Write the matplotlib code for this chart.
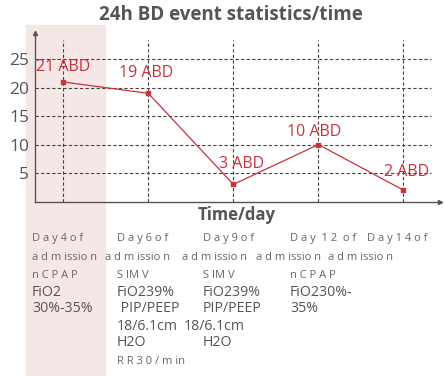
import matplotlib.pyplot as plt
from matplotlib.patches import Rectangle

plt.rcParams['font.family'] = ['Open Sans', 'DejaVu Sans']

# BD events per 24h on each observation day
days = ["Day 4", "Day 6", "Day 9", "Day 12", "Day 14"]
counts = [21, 19, 3, 10, 2]
labels = ["21 ABD", "19 ABD", "3 ABD", "10 ABD", "2 ABD"]
yticks = [5, 10, 15, 20, 25]

W, H = 444, 376
red = "#c8323a"
gray = "#555555"

fig = plt.figure(figsize=(W / 100, H / 100), dpi=100)

def fx(x):
    return x / W

def fy(y):
    return 1 - y / H

# shaded first column
fig.patches.append(Rectangle((fx(25.7), 0), fx(105.3) - fx(25.7), fy(25),
                             transform=fig.transFigure, color="#f6e7e7", zorder=-10))

ax = fig.add_axes([fx(34.7), fy(201.5), fx(440) - fx(34.7), fy(33) - fy(201.5)])
ax.set_facecolor("none")
x = list(range(len(days)))
ax.set_xlim(-0.336, 4.43)
ax.set_ylim(0, 29.6)

for v in yticks:
    ax.plot([-0.336, 4.32], [v, v], ls=(0, (3, 2)), color="#444444", lw=0.8, zorder=1)
for xi in x:
    ax.plot([xi, xi], [0, 28.3], ls=(0, (3, 2)), color="#444444", lw=0.8, zorder=1)

ax.plot(x, counts, color=red, lw=0.9, marker="s", ms=3.5, zorder=3)

offsets = [(-27, 7), (-29, 12), (-14, 12), (-31, 5), (-19, 10)]
for xi, c, lab, (dx, dy) in zip(x, counts, labels, offsets):
    ax.annotate(lab, (xi, c), xytext=(dx, dy), textcoords="offset pixels",
                color=red, fontsize=11.5, ha="left", va="bottom", zorder=4)

for s in ["top", "right"]:
    ax.spines[s].set_visible(False)
for s in ["left", "bottom"]:
    ax.spines[s].set_color(gray)
    ax.spines[s].set_linewidth(1.0)
ax.plot([-0.336], [29.6], marker="^", ms=3, color=gray, clip_on=False)
ax.plot([4.43], [0], marker=">", ms=3, color=gray, clip_on=False)

ax.set_xticks([])
ax.set_yticks(yticks)
ax.tick_params(axis="y", length=0, labelsize=12.5, labelcolor=gray, pad=4)

fig.text(fx(231), fy(15), "24h BD event statistics/time", ha="center", va="center",
         fontsize=13.5, fontweight="bold", color=gray)
fig.text(fx(237), fy(215), "Time/day", ha="center", va="center",
         fontsize=12, fontweight="bold", color=gray)

# notes under each day: (x, y, text, spaced)
notes = [
    (32, 239, "D a y 4 o f", True), (32, 257, "a d m issio n", True),
    (32, 275, "n C P A P", True), (32, 292, "FiO2", False), (32, 309, "30%-35%", False),
    (117, 239, "D a y 6 o f", True), (105, 257, "a d m issio n", True),
    (117, 275, "S IM V", True), (117, 292, "FiO239%", False), (117, 309, " PIP/PEEP", False),
    (117, 326, "18/6.1cm", False), (117, 343, "H2O", False), (117, 362, "R R 3 0 / m in", True),
    (203, 239, "D a y 9 o f", True), (182, 257, "a d m issio n", True),
    (203, 275, "S IM V", True), (203, 292, "FiO239%", False), (203, 309, "PIP/PEEP", False),
    (184, 326, "18/6.1cm", False), (203, 343, "H2O", False),
    (290, 239, "D a y  1 2  o f", True), (256, 257, "a d m issio n", True),
    (290, 275, "n C P A P", True), (290, 292, "FiO230%-", False), (290, 309, "35%", False),
    (367, 239, "D a y 1 4 o f", True), (328, 257, "a d m issio n", True),
]
for nx, ny, t, spaced in notes:
    if spaced:
        fig.text(fx(nx), fy(ny), t, ha="left", va="center", fontsize=8,
                 color="#666666")
    else:
        fig.text(fx(nx), fy(ny), t, ha="left", va="center", fontsize=10.2, color=gray)

fig.savefig("out.png", dpi=100)
